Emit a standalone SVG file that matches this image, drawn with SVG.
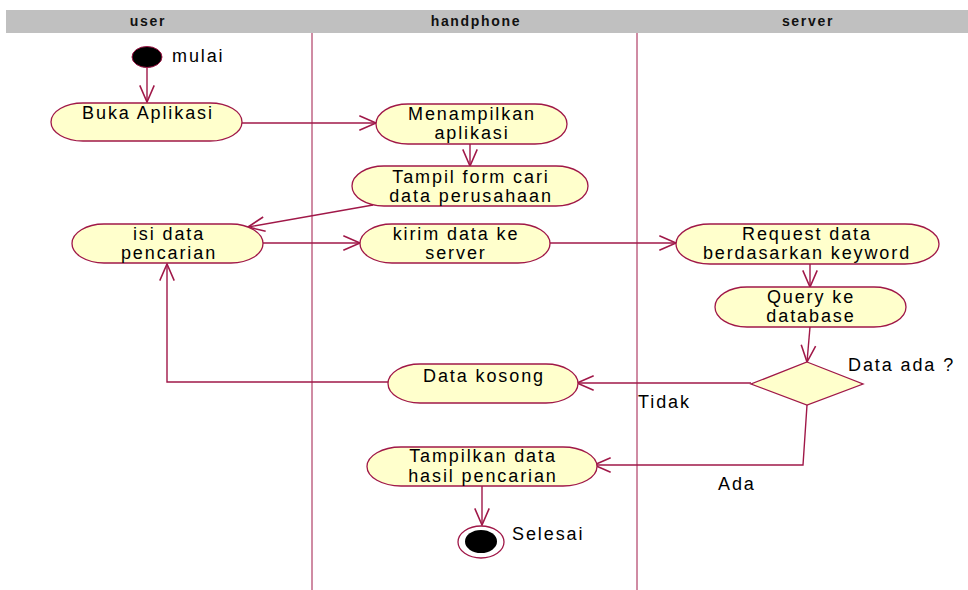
<svg xmlns="http://www.w3.org/2000/svg" width="968" height="590" viewBox="0 0 968 590">
  <style>
    .lane-head { fill: #c0c0c0; }
    .lane-title { font-family: "Liberation Sans", Arial, sans-serif; font-size: 14px; font-weight: bold; fill: #111; text-anchor: middle; letter-spacing: 1.7px; }
    .lane-line { stroke: #a01848; stroke-width: 1; fill: none; }
    .act { fill: #ffffcc; stroke: #a01848; stroke-width: 1.3; }
    .lbl { font-family: "Liberation Sans", Arial, sans-serif; font-size: 18px; fill: #000; text-anchor: middle; letter-spacing: 1.9px; }
    .note { font-family: "Liberation Sans", Arial, sans-serif; font-size: 18px; fill: #000; letter-spacing: 1.9px; }
    .flow { stroke: #a01848; stroke-width: 1.4; fill: none; marker-end: url(#open); }
  </style>
  <defs>
    <marker id="open" markerUnits="userSpaceOnUse" markerWidth="20" markerHeight="20" viewBox="-16 -8 18 16" refX="0" refY="0" orient="auto">
      <path d="M-15,-6.5 L0,0 L-15,6.5" fill="none" stroke="#a01848" stroke-width="1.4"/>
    </marker>
  </defs>
  <rect width="968" height="590" fill="#ffffff"/>

  <!-- swimlanes -->
  <g id="lanes">
    <rect class="lane-head" x="6" y="10" width="962" height="23"/>
    <text class="lane-title" x="148" y="26">user</text>
    <text class="lane-title" x="476" y="26">handphone</text>
    <text class="lane-title" x="808" y="26">server</text>
    <line class="lane-line" x1="312" y1="33" x2="312" y2="590"/>
    <line class="lane-line" x1="637" y1="33" x2="637" y2="590"/>
  </g>

  <!-- connectors -->
  <g id="connectors">
    <line class="flow" x1="147" y1="68" x2="147" y2="102"/>
    <line class="flow" x1="242" y1="123" x2="376" y2="123"/>
    <line class="flow" x1="470" y1="144" x2="470" y2="166"/>
    <line class="flow" x1="373" y1="205" x2="248" y2="227"/>
    <line class="flow" x1="263" y1="243" x2="360" y2="243"/>
    <line class="flow" x1="550" y1="243" x2="676" y2="243"/>
    <line class="flow" x1="810" y1="264" x2="810" y2="287"/>
    <line class="flow" x1="810" y1="327" x2="807" y2="362"/>
    <line class="flow" x1="751" y1="383" x2="577" y2="383"/>
    <polyline class="flow" points="388,382 167,382 167,264"/>
    <polyline class="flow" points="807,405 803,465 594,465"/>
    <line class="flow" x1="482" y1="486" x2="482" y2="525"/>
    <text class="note" x="638" y="408">Tidak</text>
    <text class="note" x="718" y="490">Ada</text>
  </g>

  <g id="start">
    <ellipse cx="147" cy="57" rx="15" ry="10.5" fill="#000" stroke="#a01848" stroke-width="1"/>
    <text class="note" x="172" y="62">mulai</text>
  </g>

  <g id="buka-aplikasi">
    <rect class="act" x="51" y="103" width="191" height="38" rx="32" ry="19"/>
    <text class="lbl" x="148" y="119">Buka Aplikasi</text>
  </g>

  <g id="menampilkan-aplikasi">
    <rect class="act" x="376" y="104" width="191" height="40" rx="32" ry="20"/>
    <text class="lbl" x="472" y="120">Menampilkan</text>
    <text class="lbl" x="472" y="139">aplikasi</text>
  </g>

  <g id="tampil-form">
    <rect class="act" x="352" y="166" width="236" height="40" rx="32" ry="20"/>
    <text class="lbl" x="471" y="183">Tampil form cari</text>
    <text class="lbl" x="471" y="202">data perusahaan</text>
  </g>

  <g id="isi-data">
    <rect class="act" x="72" y="224" width="191" height="39" rx="32" ry="19.5"/>
    <text class="lbl" x="169" y="240">isi data</text>
    <text class="lbl" x="169" y="259">pencarian</text>
  </g>

  <g id="kirim-data">
    <rect class="act" x="360" y="224" width="190" height="39" rx="32" ry="19.5"/>
    <text class="lbl" x="456" y="240">kirim data ke</text>
    <text class="lbl" x="456" y="259">server</text>
  </g>

  <g id="request-data">
    <rect class="act" x="676" y="224" width="263" height="40" rx="34" ry="20"/>
    <text class="lbl" x="807" y="240">Request data</text>
    <text class="lbl" x="807" y="259">berdasarkan keyword</text>
  </g>

  <g id="query-database">
    <rect class="act" x="715" y="287" width="191" height="40" rx="32" ry="20"/>
    <text class="lbl" x="811" y="303">Query ke</text>
    <text class="lbl" x="811" y="322">database</text>
  </g>

  <g id="data-ada">
    <polygon class="act" points="807,362 863,384 807,405 751,384"/>
    <text class="note" x="848" y="371">Data ada ?</text>
  </g>

  <g id="data-kosong">
    <rect class="act" x="388" y="364" width="190" height="39" rx="32" ry="19.5"/>
    <text class="lbl" x="484" y="382">Data kosong</text>
  </g>

  <g id="tampilkan-data">
    <rect class="act" x="367" y="447" width="230" height="39" rx="34" ry="19.5"/>
    <text class="lbl" x="483" y="462">Tampilkan data</text>
    <text class="lbl" x="483" y="482">hasil pencarian</text>
  </g>

  <g id="selesai">
    <ellipse cx="481" cy="542" rx="23" ry="16" fill="#fff" stroke="#a01848" stroke-width="1.3"/>
    <ellipse cx="481" cy="541.5" rx="16" ry="11.5" fill="#000"/>
    <text class="note" x="512" y="540">Selesai</text>
  </g>
</svg>
